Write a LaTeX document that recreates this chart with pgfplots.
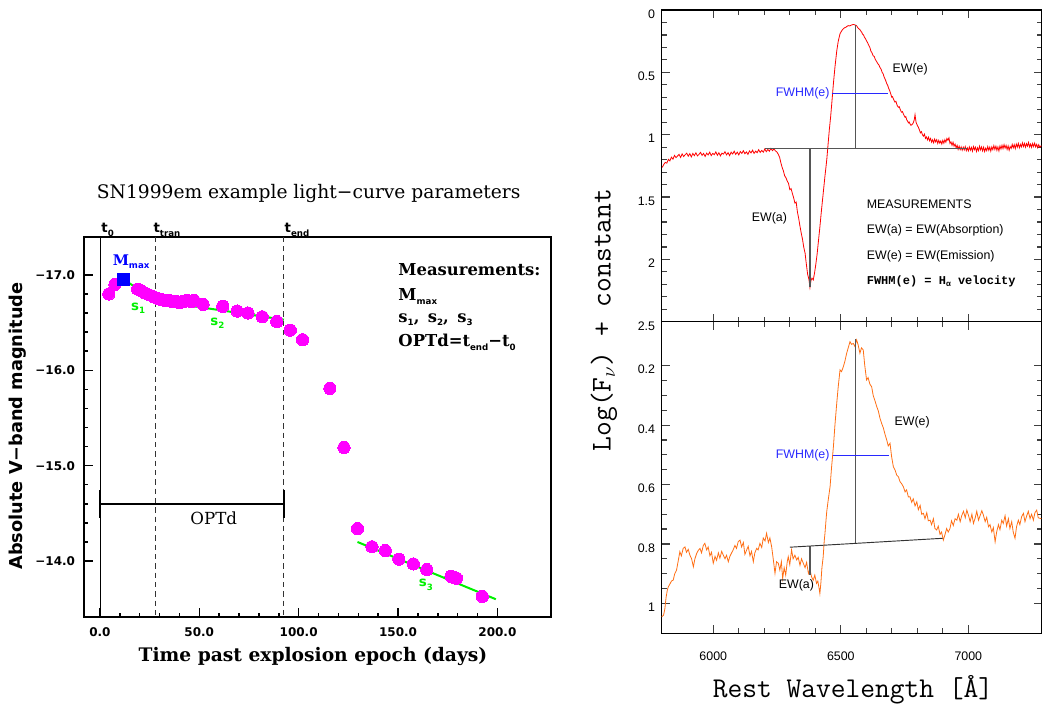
\documentclass[border=0pt]{standalone}
\usepackage{fontspec}
\usepackage{pgfplots}
\usepackage{pgfplotstable}
\pgfplotsset{compat=1.18}

\newfontfamily\dvserif{DejaVu Serif}
\newfontfamily\dvsans{DejaVu Sans}
\newfontfamily\lsans{Liberation Sans}
\newfontfamily\lmono{Liberation Mono}

\definecolor{lcmag}{RGB}{255,0,255}
\definecolor{lcgreen}{RGB}{0,240,0}
\definecolor{lcblue}{RGB}{0,0,255}
\definecolor{sporange}{RGB}{255,110,20}
\definecolor{spblue}{RGB}{40,40,255}
\definecolor{spgray}{RGB}{85,85,85}

% small bold subscripts for the light-curve labels
\newcommand{\lsub}[1]{\raisebox{-0.45ex}{\dvsans\bfseries\fontsize{6.5}{7}\selectfont #1}}
\newcommand{\lcfont}{\dvserif\bfseries\fontsize{12.3}{14}\selectfont}
\newcommand{\spfont}{\lsans\fontsize{9.3}{11}\selectfont}

% V-band light curve of SN 1999em
\pgfplotstableread{
day mag
4.5 -16.80
7.6 -16.90
19.0 -16.85
21.0 -16.83
22.5 -16.81
24.8 -16.79
27.0 -16.77
29.3 -16.75
31.0 -16.74
32.9 -16.73
35.0 -16.73
36.5 -16.72
38.5 -16.72
40.1 -16.71
42.0 -16.72
43.7 -16.73
46.0 -16.72
47.4 -16.73
51.9 -16.69
61.8 -16.67
69.1 -16.62
74.5 -16.60
81.7 -16.56
89.0 -16.51
95.8 -16.42
102.0 -16.32
115.7 -15.81
122.8 -15.19
129.6 -14.34
136.9 -14.15
143.6 -14.11
150.4 -14.02
157.7 -13.97
164.5 -13.91
176.7 -13.84
178.0 -13.83
179.4 -13.82
192.4 -13.63
}\lcdata

% H-alpha region, plateau spectrum
\pgfplotstableread{
lam f
5800 1.262
5806 1.238
5812 1.222
5818 1.228
5824 1.198
5830 1.210
5836 1.180
5842 1.196
5848 1.166
5854 1.184
5860 1.170
5866 1.158
5872 1.182
5878 1.154
5884 1.175
5890 1.160
5896 1.148
5902 1.172
5908 1.152
5914 1.178
5920 1.150
5926 1.168
5932 1.145
5938 1.170
5944 1.158
5950 1.142
5956 1.166
5962 1.150
5968 1.175
5974 1.148
5980 1.162
5986 1.140
5992 1.168
5998 1.150
6004 1.160
6010 1.138
6016 1.165
6022 1.145
6028 1.170
6034 1.148
6040 1.156
6046 1.136
6052 1.162
6058 1.144
6064 1.168
6070 1.140
6076 1.155
6082 1.132
6088 1.158
6094 1.140
6100 1.162
6106 1.135
6112 1.150
6118 1.128
6124 1.152
6130 1.138
6136 1.158
6142 1.130
6148 1.146
6154 1.124
6160 1.150
6166 1.132
6172 1.144
6178 1.120
6184 1.142
6190 1.126
6196 1.140
6202 1.115
6208 1.136
6214 1.118
6220 1.132
6226 1.110
6232 1.128
6238 1.114
6244 1.130
6250 1.140
6255 1.158
6260 1.180
6265 1.225
6270 1.262
6275 1.290
6280 1.330
6285 1.345
6290 1.372
6295 1.390
6300 1.440
6305 1.432
6310 1.470
6315 1.505
6320 1.548
6325 1.540
6330 1.620
6335 1.672
6340 1.735
6345 1.790
6350 1.840
6355 1.905
6360 1.950
6365 2.040
6370 2.120
6375 2.160
6379 2.225
6383 2.170
6387 2.150
6392 2.165
6397 2.110
6402 2.040
6407 1.960
6412 1.860
6418 1.740
6424 1.610
6431 1.470
6438 1.330
6445 1.200
6450 1.080
6455 0.960
6460 0.860
6465 0.740
6471 0.590
6477 0.460
6484 0.330
6490 0.250
6497 0.190
6504 0.165
6510 0.150
6515 0.142
6520 0.138
6525 0.130
6530 0.125
6535 0.128
6540 0.122
6545 0.118
6550 0.116
6556 0.120
6562 0.126
6566 0.140
6570 0.150
6574 0.155
6578 0.168
6582 0.178
6585 0.192
6589 0.200
6592 0.215
6596 0.228
6601 0.248
6605 0.262
6610 0.285
6614 0.300
6618 0.330
6622 0.342
6627 0.368
6631 0.372
6635 0.395
6640 0.412
6645 0.430
6649 0.440
6654 0.462
6658 0.475
6662 0.500
6666 0.512
6670 0.538
6675 0.560
6680 0.590
6684 0.605
6688 0.630
6692 0.648
6695 0.668
6700 0.700
6703 0.695
6706 0.712
6709 0.725
6712 0.738
6716 0.732
6719 0.752
6722 0.770
6726 0.780
6729 0.775
6732 0.792
6736 0.812
6739 0.820
6742 0.815
6745 0.832
6749 0.850
6752 0.860
6755 0.855
6758 0.878
6762 0.892
6765 0.905
6768 0.898
6771 0.912
6775 0.925
6778 0.920
6781 0.915
6784 0.905
6788 0.880
6791 0.840
6795 0.900
6800 0.925
6804 0.940
6808 0.960
6812 0.985
6816 0.975
6820 1.000
6824 1.012
6828 0.995
6832 1.030
6836 1.018
6840 1.042
6844 1.020
6848 1.048
6852 1.030
6856 1.060
6860 1.040
6864 1.065
6868 1.035
6872 1.058
6876 1.040
6880 1.070
6884 1.045
6888 1.068
6892 1.050
6896 1.075
6900 1.045
6904 1.068
6908 1.040
6912 1.060
6916 1.030
6920 1.045
6924 1.025
6928 1.070
6932 1.058
6936 1.085
6940 1.060
6944 1.092
6948 1.075
6952 1.105
6956 1.085
6960 1.118
6964 1.092
6968 1.120
6972 1.098
6976 1.125
6980 1.100
6984 1.122
6988 1.095
6992 1.128
6996 1.105
7000 1.130
7004 1.098
7008 1.125
7012 1.102
7016 1.132
7020 1.095
7024 1.120
7028 1.100
7032 1.135
7036 1.105
7040 1.128
7044 1.092
7048 1.122
7052 1.098
7056 1.130
7060 1.100
7064 1.135
7068 1.108
7072 1.128
7076 1.095
7080 1.125
7084 1.100
7088 1.132
7092 1.098
7096 1.120
7100 1.088
7104 1.118
7108 1.092
7112 1.125
7116 1.098
7120 1.130
7124 1.090
7128 1.115
7132 1.085
7136 1.112
7140 1.080
7144 1.108
7148 1.085
7152 1.118
7156 1.090
7160 1.125
7164 1.095
7168 1.110
7172 1.078
7176 1.105
7180 1.080
7184 1.112
7188 1.075
7192 1.100
7196 1.070
7200 1.105
7204 1.078
7208 1.098
7212 1.065
7216 1.095
7220 1.070
7224 1.100
7228 1.072
7232 1.092
7236 1.062
7240 1.098
7244 1.075
7248 1.102
7252 1.070
7256 1.095
7260 1.068
7264 1.098
7268 1.078
7272 1.105
7276 1.080
7280 1.100
7286 1.088
}\specTop

% H-alpha region, late spectrum
\pgfplotstableread{
lam f
5798 1.045
5805 1.040
5810 1.020
5815 0.980
5820 0.955
5824 0.944
5830 0.935
5836 0.925
5843 0.922
5849 0.900
5856 0.888
5862 0.860
5869 0.826
5875 0.840
5882 0.815
5889 0.810
5895 0.828
5902 0.818
5908 0.837
5915 0.850
5922 0.877
5928 0.850
5935 0.832
5941 0.822
5948 0.815
5954 0.830
5961 0.805
5967 0.798
5974 0.820
5980 0.810
5987 0.840
5993 0.828
6000 0.865
6007 0.842
6013 0.855
6020 0.830
6026 0.848
6033 0.825
6039 0.837
6046 0.850
6052 0.838
6059 0.860
6065 0.842
6072 0.830
6078 0.820
6085 0.805
6091 0.815
6098 0.792
6105 0.787
6111 0.810
6118 0.795
6124 0.835
6131 0.820
6137 0.808
6144 0.840
6150 0.825
6157 0.860
6163 0.830
6170 0.815
6176 0.820
6183 0.798
6190 0.812
6196 0.780
6203 0.790
6209 0.764
6216 0.795
6222 0.780
6229 0.810
6235 0.850
6242 0.899
6248 0.860
6255 0.865
6261 0.888
6267 0.860
6272 0.916
6278 0.880
6284 0.905
6290 0.860
6294 0.843
6300 0.870
6307 0.820
6313 0.850
6320 0.838
6327 0.854
6333 0.845
6340 0.872
6346 0.850
6353 0.865
6360 0.880
6366 0.862
6373 0.899
6379 0.885
6385 0.910
6392 0.922
6398 0.905
6405 0.933
6410 0.925
6415 0.950
6418 0.967
6422 0.930
6426 0.880
6431 0.843
6435 0.790
6438 0.764
6442 0.720
6445 0.690
6451 0.650
6458 0.607
6464 0.540
6471 0.473
6477 0.400
6484 0.327
6490 0.270
6497 0.214
6503 0.220
6510 0.203
6516 0.185
6523 0.158
6529 0.140
6536 0.119
6542 0.128
6549 0.125
6555 0.135
6562 0.113
6568 0.130
6575 0.158
6581 0.140
6588 0.147
6594 0.200
6601 0.248
6607 0.240
6614 0.262
6621 0.271
6627 0.300
6634 0.318
6641 0.338
6647 0.352
6654 0.378
6660 0.394
6667 0.410
6673 0.430
6680 0.450
6686 0.470
6693 0.461
6699 0.505
6706 0.540
6713 0.552
6719 0.568
6726 0.574
6732 0.590
6739 0.598
6745 0.607
6752 0.625
6758 0.618
6765 0.642
6771 0.641
6778 0.660
6784 0.648
6791 0.672
6798 0.658
6804 0.685
6811 0.670
6817 0.700
6824 0.697
6830 0.715
6837 0.695
6843 0.722
6850 0.720
6856 0.735
6863 0.715
6869 0.748
6876 0.753
6882 0.740
6889 0.768
6895 0.760
6902 0.787
6908 0.770
6915 0.748
6921 0.760
6928 0.748
6934 0.722
6941 0.738
6948 0.715
6955 0.720
6961 0.700
6968 0.725
6974 0.705
6981 0.690
6988 0.712
6994 0.686
7001 0.705
7007 0.725
7014 0.700
7020 0.731
7027 0.712
7033 0.690
7040 0.720
7046 0.705
7053 0.688
7059 0.703
7066 0.725
7072 0.710
7079 0.742
7085 0.735
7092 0.760
7098 0.745
7105 0.793
7111 0.760
7118 0.735
7124 0.752
7131 0.720
7137 0.731
7144 0.705
7150 0.740
7157 0.715
7163 0.748
7170 0.725
7176 0.760
7183 0.781
7189 0.742
7196 0.720
7202 0.735
7209 0.708
7216 0.697
7222 0.725
7229 0.705
7235 0.690
7242 0.715
7248 0.700
7255 0.720
7261 0.695
7268 0.686
7274 0.712
7286 0.715
}\specBot

\begin{document}
\begin{tikzpicture}
\useasboundingbox (0pt,0pt) rectangle (781.5pt,-528pt);

% ---------------- light curve ----------------
\node[font=\dvserif\fontsize{14}{16}\selectfont] at (231.5pt,-144.75pt)
  {SN1999em example light−curve parameters};
\node[rotate=90, font=\dvsans\bfseries\fontsize{13.3}{15}\selectfont] at (13.5pt,-319.5pt)
  {Absolute V−band magnitude};
\node[font=\dvserif\bfseries\fontsize{14}{16}\selectfont] at (234.75pt,-492pt)
  {Time past explosion epoch (days)};

\begin{axis}[
  at={(63.3pt,-463pt)}, anchor=south west,
  scale only axis, width=350pt, height=285.5pt,
  xmin=-7.8, xmax=227, ymin=-17.40, ymax=-13.41, y dir=reverse,
  clip=false,
  axis line style={line width=1.5pt},
  xtick={0,50,100,150,200},
  xticklabels={0.0,50.0,100.0,150.0,200.0},
  ytick={-17,-16,-15,-14},
  yticklabels={−17.0,−16.0,−15.0,−14.0},
  minor x tick num=4, minor y tick num=4,
  xtick pos=left, ytick pos=left,
  tick align=inside,
  major tick length=6.75pt, minor tick length=3pt,
  every tick/.style={black, line width=1.1pt},
  xticklabel style={font=\dvsans\bfseries\fontsize{9}{10}\selectfont, yshift=-4pt},
  yticklabel style={font=\dvsans\bfseries\fontsize{9}{10}\selectfont, xshift=-3.5pt},
]
\addplot[black, line width=0.6pt] coordinates {(0,-17.40) (0,-13.41)};
\addplot[black!80, line width=0.8pt, dash pattern=on 4pt off 3pt] coordinates {(28,-17.40) (28,-13.41)};
\addplot[black!80, line width=0.8pt, dash pattern=on 4pt off 3pt] coordinates {(92.6,-17.40) (92.6,-13.41)};
\addplot[black, line width=1.5pt] coordinates {(0,-14.60) (92.6,-14.60)};
\addplot[black, line width=1.5pt] coordinates {(0,-14.74) (0,-14.45)};
\addplot[black, line width=1.5pt] coordinates {(92.6,-14.74) (92.6,-14.45)};
\addplot[color=lcmag, only marks, mark=*, mark size=4.6pt,
  mark options={draw=lcmag, fill=lcmag, line width=0pt}]
  table[x=day, y=mag] {\lcdata};
\addplot[lcgreen, line width=1.5pt] coordinates {(12.1,-16.95) (28,-16.73) (92.6,-16.53)};
\addplot[lcgreen, line width=1.5pt] coordinates {(129.6,-14.20) (199.2,-13.60)};
\addplot[color=lcblue, only marks, mark=square*, mark size=4.5pt,
  mark options={draw=lcblue, fill=lcblue, line width=0pt}]
  coordinates {(12.1,-16.95)};

\node[anchor=west, font=\dvsans\bfseries\fontsize{10}{12}\selectfont] at (axis cs:-1.6,-17.47) {t\lsub{0}};
\node[anchor=west, font=\dvsans\bfseries\fontsize{10}{12}\selectfont] at (axis cs:24.6,-17.47) {t\lsub{tran}};
\node[anchor=west, font=\dvsans\bfseries\fontsize{10}{12}\selectfont] at (axis cs:90.6,-17.47) {t\lsub{end}};

\node[text=lcblue, font=\dvserif\bfseries\fontsize{11}{13}\selectfont] at (axis cs:15.7,-17.14) {M\lsub{max}};
\node[text=lcgreen, font=\dvsans\bfseries\fontsize{10}{12}\selectfont] at (axis cs:19.2,-16.65) {s\lsub{1}};
\node[text=lcgreen, font=\dvsans\bfseries\fontsize{10}{12}\selectfont] at (axis cs:59.1,-16.49) {s\lsub{2}};
\node[text=lcgreen, font=\dvsans\bfseries\fontsize{10}{12}\selectfont] at (axis cs:164,-13.75) {s\lsub{3}};

\node[font=\dvserif\fontsize{12.5}{14}\selectfont] at (axis cs:57.3,-14.45) {OPTd};

\node[anchor=west, inner sep=0pt, font=\lcfont] at (axis cs:150.1,-17.05) {Measurements:};
\node[anchor=west, inner sep=0pt, font=\lcfont] at (axis cs:150.1,-16.77) {M\lsub{max}};
\node[anchor=west, inner sep=0pt, font=\lcfont] at (axis cs:150.1,-16.53) {s\lsub{1}, \,s\lsub{2}, \,s\lsub{3}};
\node[anchor=west, inner sep=0pt, font=\lcfont] at (axis cs:150.1,-16.29) {OPTd=t\lsub{end}−t\lsub{0}};
\end{axis}

% ---------------- spectra ----------------
\node[rotate=90, font=\ttfamily\fontsize{21.5}{24}\selectfont] at (453pt,-240pt)
  {Log(F$_\nu$) + constant};
\node[font=\ttfamily\fontsize{21.5}{24}\selectfont] at (639.75pt,-517.5pt)
  {Rest Wavelength [Å]};

\begin{axis}[
  at={(496.3pt,-241.3pt)}, anchor=south west,
  scale only axis, width=284.85pt, height=233.8pt,
  xmin=5798, xmax=7287, ymin=0, ymax=2.5, y dir=reverse,
  clip=false,
  axis line style={line width=1pt},
  xtick={6000,6500,7000}, xticklabels={},
  ytick={0,0.5,1,1.5,2,2.5}, yticklabels={0,0.5,1,1.5,2,2.5},
  minor x tick num=4, minor y tick num=4,
  tick align=inside,
  major tick length=6pt, minor tick length=3.75pt,
  every tick/.style={black!75, line width=0.9pt},
  yticklabel style={font=\spfont, xshift=-1.5pt, yshift=-3pt},
]
\addplot[red, line width=0.6pt] table[x=lam, y=f] {\specTop};
\addplot[spgray, line width=1.1pt] coordinates {(6558,0.118) (6558,1.108)};
\addplot[spgray, line width=1.1pt] coordinates {(6379,1.108) (6379,2.22)};
\addplot[spgray, line width=1pt] coordinates {(6202,1.108) (6994,1.108)};
\addplot[spblue, line width=1pt] coordinates {(6464,0.667) (6686,0.667)};

\node[anchor=east, text=spblue, font=\spfont, inner sep=1pt] at (axis cs:6462,0.667) {FWHM(e)};
\node[anchor=west, font=\spfont, inner sep=0pt] at (axis cs:6702,0.474) {EW(e)};
\node[font=\spfont] at (axis cs:6220,1.67) {EW(a)};
\node[anchor=west, font=\spfont, inner sep=0pt] at (axis cs:6601,1.561) {MEASUREMENTS};
\node[anchor=west, font=\spfont, inner sep=0pt] at (axis cs:6601,1.767) {EW(a) = EW(Absorption)};
\node[anchor=west, font=\spfont, inner sep=0pt] at (axis cs:6601,1.973) {EW(e) = EW(Emission)};
\node[anchor=west, font=\lmono\bfseries\fontsize{9}{11}\selectfont, inner sep=0pt] at (axis cs:6601,2.173)
  {FWHM(e) = H\raisebox{-0.4ex}{\fontsize{6}{7}\selectfont α} velocity};
\end{axis}

\begin{axis}[
  at={(496.3pt,-475pt)}, anchor=south west,
  scale only axis, width=284.85pt, height=233.7pt,
  xmin=5798, xmax=7287, ymin=0.052, ymax=1.101, y dir=reverse,
  clip=false,
  axis line style={line width=1pt},
  xtick={6000,6500,7000}, xticklabels={6000,6500,7000},
  ytick={0.2,0.4,0.6,0.8,1}, yticklabels={0.2,0.4,0.6,0.8,1},
  minor x tick num=4, minor y tick num=3,
  tick align=inside,
  major tick length=6pt, minor tick length=3.75pt,
  every tick/.style={black!75, line width=0.9pt},
  xticklabel style={font=\spfont, yshift=-10.5pt},
  yticklabel style={font=\spfont, xshift=-1.5pt, yshift=-3pt},
]
\addplot[sporange, line width=0.6pt] table[x=lam, y=f] {\specBot};
\addplot[spgray, line width=1.1pt] coordinates {(6558,0.111) (6558,0.798)};
\addplot[spgray, line width=1.1pt] coordinates {(6379,0.806) (6379,0.905)};
\addplot[black!80, line width=0.7pt] coordinates {(6300,0.811) (6899,0.781)};
\addplot[spblue, line width=0.9pt] coordinates {(6468,0.501) (6690,0.501)};

\node[anchor=east, text=spblue, font=\spfont, inner sep=1pt] at (axis cs:6462,0.501) {FWHM(e)};
\node[anchor=west, font=\spfont, inner sep=0pt] at (axis cs:6710,0.391) {EW(e)};
\node[font=\spfont] at (axis cs:6326,0.938) {EW(a)};
\end{axis}
\end{tikzpicture}
\end{document}
